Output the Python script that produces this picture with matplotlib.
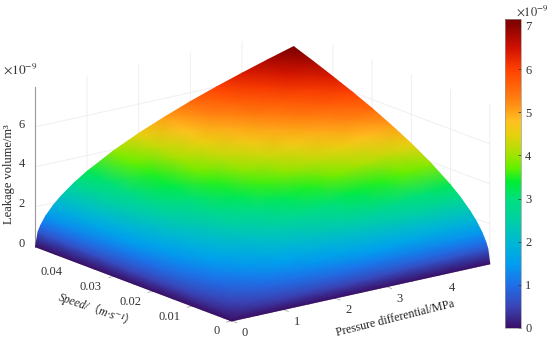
#!/usr/bin/env python
"""Leakage volume over pressure differential and speed, with a smooth shaded surface."""
import matplotlib
matplotlib.use("Agg")
import matplotlib.pyplot as plt
from matplotlib.cm import ScalarMappable
from matplotlib.colors import LinearSegmentedColormap, Normalize
from mpl_toolkits.mplot3d import proj3d
import numpy as np

plt.rcParams["font.family"] = ["Liberation Serif", "DejaVu Serif"]
plt.rcParams["mathtext.fontset"] = "stix"

pressure = [0, 0.05, 0.1, 0.2, 0.35, 0.5, 0.75, 1, 1.5, 2, 2.5, 3, 3.5, 4, 4.5, 5]
speed = [0, 0.0005, 0.001, 0.002, 0.0035, 0.005, 0.0075, 0.01, 0.015, 0.02, 0.025, 0.03, 0.035, 0.04, 0.045, 0.05]
# leakage, 1e-9 m^3: one row per speed, one column per pressure
leakage = [
    [0] * 16,
    [0, .07, .10, .14, .19, .23, .28, .32, .39, .45, .51, .55, .60, .64, .68, .72],
    [0, .10, .14, .20, .27, .32, .39, .45, .55, .64, .71, .78, .84, .90, .96, 1.01],
    [0, .14, .20, .29, .38, .45, .55, .64, .78, .91, 1.01, 1.11, 1.20, 1.28, 1.36, 1.43],
    [0, .19, .27, .38, .50, .60, .73, .85, 1.04, 1.20, 1.34, 1.47, 1.59, 1.70, 1.80, 1.89],
    [0, .23, .32, .45, .60, .72, .88, 1.01, 1.24, 1.43, 1.60, 1.75, 1.89, 2.02, 2.15, 2.26],
    [0, .28, .39, .55, .73, .88, 1.07, 1.24, 1.52, 1.75, 1.96, 2.15, 2.32, 2.48, 2.63, 2.77],
    [0, .32, .45, .64, .85, 1.01, 1.24, 1.43, 1.75, 2.02, 2.26, 2.48, 2.68, 2.86, 3.04, 3.20],
    [0, .39, .55, .78, 1.04, 1.24, 1.52, 1.75, 2.15, 2.48, 2.77, 3.04, 3.28, 3.51, 3.72, 3.92],
    [0, .45, .64, .91, 1.20, 1.43, 1.75, 2.02, 2.48, 2.86, 3.20, 3.51, 3.79, 4.05, 4.29, 4.53],
    [0, .51, .71, 1.01, 1.34, 1.60, 1.96, 2.26, 2.77, 3.20, 3.58, 3.92, 4.24, 4.53, 4.80, 5.06],
    [0, .55, .78, 1.11, 1.47, 1.75, 2.15, 2.48, 3.04, 3.51, 3.92, 4.30, 4.64, 4.96, 5.26, 5.55],
    [0, .60, .84, 1.20, 1.59, 1.89, 2.32, 2.68, 3.28, 3.79, 4.24, 4.64, 5.01, 5.36, 5.68, 5.99],
    [0, .64, .90, 1.28, 1.70, 2.02, 2.48, 2.86, 3.51, 4.05, 4.53, 4.96, 5.36, 5.73, 6.08, 6.40],
    [0, .68, .96, 1.36, 1.80, 2.15, 2.63, 3.04, 3.72, 4.29, 4.80, 5.26, 5.68, 6.08, 6.45, 6.79],
    [0, .72, 1.01, 1.43, 1.89, 2.26, 2.77, 3.20, 3.92, 4.53, 5.06, 5.55, 5.99, 6.40, 6.79, 7.16],
]
pressure_ticks = [0, 1, 2, 3, 4]
speed_ticks = [0, 0.01, 0.02, 0.03, 0.04]
speed_tick_labels = ["0", "0.01", "0.02", "0.03", "0.04"]
leakage_ticks = [0, 2, 4, 6]
colorbar_ticks = [0, 1, 2, 3, 4, 5, 6, 7]

# colour stops
stops = [(0.0, "#3a0f66"), (0.5, "#3a45b8"), (1.0, "#1f6fe8"), (1.5, "#009ff0"),
         (2.0, "#00b8d2"), (2.5, "#00d0a4"), (3.0, "#00e07c"), (3.4, "#00ee30"),
         (3.7, "#60f000"), (4.0, "#a0e400"), (4.5, "#e8d010"), (4.8, "#ffc020"),
         (5.3, "#ff8010"), (6.0, "#ff4000"), (6.5, "#d01000"), (7.16, "#780000")]
cmap = LinearSegmentedColormap.from_list("leak", [(v / 7.16, c) for v, c in stops], N=512)
norm = Normalize(0, 7.16)

W, H = 550, 343
fig = plt.figure(figsize=(W / 100, H / 100), dpi=100)

ax = fig.add_axes([-17 / W, -8.5 / H, 1, 1], projection="3d", proj_type="ortho")
ax.set_xlim(0, 5, view_margin=0)
ax.set_ylim(0, 0.05, view_margin=0)
ax.set_zlim(0, 8, view_margin=0)
ax.view_init(elev=16.8, azim=-127.4)
ax.set_box_aspect((325, 323, 167), zoom=1.38)
ax.patch.set_alpha(0)
for axis in (ax.xaxis, ax.yaxis, ax.zaxis):
    axis.set_pane_color((1, 1, 1, 0))
    axis.line.set_color("#999999")
    axis.line.set_linewidth(0.8)
    axis._axinfo["grid"].update(color="#efefef", linewidth=0.7)
    axis._axinfo["tick"].update(inward_factor=0.0, outward_factor=0.0)
ax.set_xticks(pressure_ticks)
ax.set_yticks(speed_ticks)
ax.set_zticks(leakage_ticks)
for axis in (ax.xaxis, ax.yaxis, ax.zaxis):
    for tick in axis.get_major_ticks():
        tick.label1.set_visible(False)
        tick.label2.set_visible(False)

# overlay for what mplot3d cannot do: blended surface colours and freely placed tick labels
top = fig.add_axes([0, 0, 1, 1])
top.set_xticks([])
top.set_yticks([])
top.axis("off")
M = ax.get_proj()


def label3d(x, y, z, text, **kw):
    px, py, _ = proj3d.proj_transform(x, y, z, M)
    top.text(px, py, text, transform=ax.transData, fontsize=9, color="#333333", va="center", **kw)


tick_kw = dict(color="#aaaaaa", linewidth=0.6)
for p in pressure_ticks:
    ax.plot([p, p], [0, -0.0013], [0, 0], **tick_kw)
    label3d(p, -0.0034, -0.37, str(p), ha="center")
for v, lab in zip(speed_ticks, speed_tick_labels):
    ax.plot([0, -0.1], [v, v], [0, 0], **tick_kw)
    label3d(-0.233, v, -0.39, lab, ha="right")
for z in leakage_ticks:
    ax.plot([0, -0.1], [0.05, 0.05], [z, z], **tick_kw)
    label3d(-0.27, 0.05, z + 0.27, str(z), ha="center")

P, S = np.meshgrid(pressure, speed)
Z = np.array(leakage, dtype=float)
px, py, _ = proj3d.proj_transform(P.ravel(), S.ravel(), Z.ravel(), M)
top.pcolormesh(px.reshape(P.shape), py.reshape(P.shape), Z, shading="gouraud", cmap=cmap, norm=norm,
               transform=ax.transData, clip_on=False)

fig.text(9 / W, 1 - 174 / H, "Leakage volume/m³", rotation=90, ha="center", va="center", fontsize=9, color="#222222")
fig.text(97 / W, 1 - 310 / H, "Speed/（m·s⁻¹）", rotation=-19, ha="center", va="center", fontsize=8.5,
         color="#222222", style="italic", family=["Liberation Serif", "Noto Sans CJK SC", "DejaVu Sans"])
fig.text(395 / W, 1 - 318 / H, "Pressure differential/MPa", rotation=14, ha="center", va="center", fontsize=8.6,
         color="#222222")
fig.text(20 / W, 1 - 69 / H, r"$\times 10^{-9}$", ha="center", va="center", fontsize=9.5, color="#333333")
fig.text(532 / W, 1 - 11 / H, r"$\times 10^{-9}$", ha="center", va="center", fontsize=9, color="#333333")

cax = fig.add_axes([505 / W, 1 - 328 / H, 16 / W, 309 / H])
cbar = fig.colorbar(ScalarMappable(norm=norm, cmap=cmap), cax=cax, ticks=colorbar_ticks)
cbar.ax.tick_params(labelsize=9, colors="#333333", length=2, width=0.5, direction="in", pad=3)
cbar.outline.set_edgecolor("#999999")
cbar.outline.set_linewidth(0.5)

fig.savefig("out.png", dpi=100)
